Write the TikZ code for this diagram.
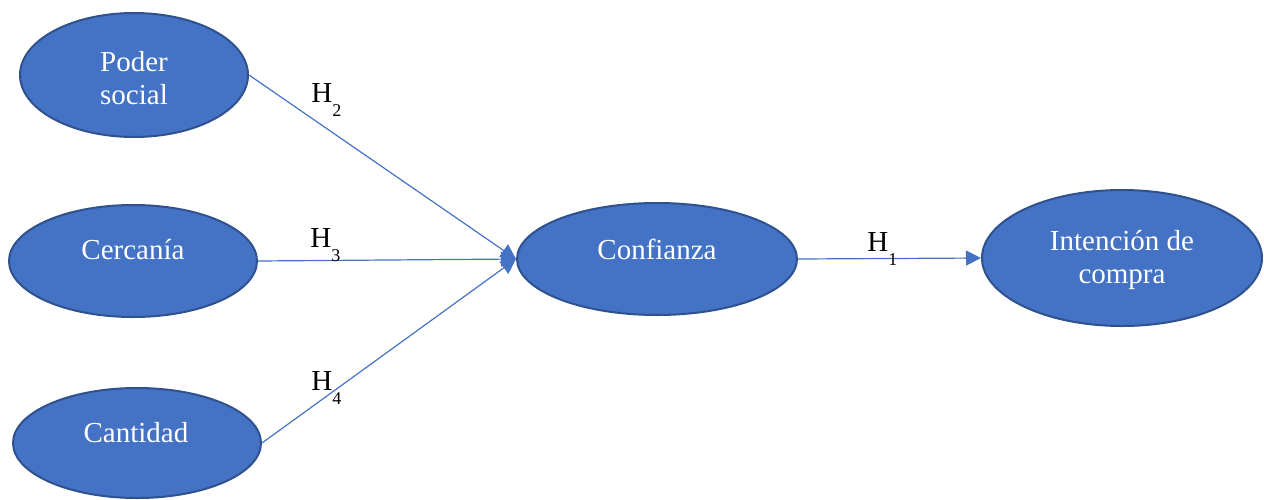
\documentclass[tikz,border=0pt]{standalone}
\usepackage{fontspec}
\setmainfont{Liberation Serif}
\usetikzlibrary{shapes.geometric,arrows.meta}
\definecolor{fillblue}{HTML}{4472C4}
\definecolor{edgeblue}{HTML}{2F528F}
\newcommand\hyptext[1]{H\raisebox{-7pt}{\fontsize{9}{9}\selectfont #1}}
\begin{document}
\begin{tikzpicture}[x=0.5pt,y=-0.5pt,
  oval/.style={ellipse,fill=fillblue,draw=edgeblue,line width=1pt,inner sep=0pt},
  lbl/.style={text=white,font=\fontsize{14.5}{16.5}\selectfont,align=center,inner sep=0pt},
  hyp/.style={font=\fontsize{14.5}{16.5}\selectfont,inner sep=0pt,anchor=base west},
  link/.style={draw=fillblue,line width=0.6pt,-{Triangle[length=7.5pt,width=7.5pt]}}]
\useasboundingbox (0,0) rectangle (1264,499);
% ellipses
\node[oval,minimum width=114pt,minimum height=62pt] (ps) at (134,75) {};
\node[oval,minimum width=124pt,minimum height=56pt] (cer) at (133,261) {};
\node[oval,minimum width=124pt,minimum height=55pt] (can) at (137,443) {};
\node[oval,minimum width=140pt,minimum height=56pt] (conf) at (657,259) {};
\node[oval,minimum width=140pt,minimum height=68pt] (int) at (1122,258) {};
% texts
\node[lbl] (tps) at (134,78) {Poder\\social};
\node[lbl,anchor=base] (tcer) at (133,259) {Cercanía};
\node[lbl,anchor=base] (tcan) at (136,442) {Cantidad};
\node[lbl,anchor=base] (tconf) at (657,259) {Confianza};
\node[lbl] (tint) at (1122,260) {Intención de\\compra};
% connectors
\draw[link] (ps.east) -- (conf.west);
\draw[link] (cer.east) -- (conf.west);
\draw[link] (can.east) -- (conf.west);
\draw[link] (conf.east) -- (int.west);
% hypothesis labels
\node[hyp] (h2) at (311,102) {\hyptext{2}};
\node[hyp] (h3) at (310,247) {\hyptext{3}};
\node[hyp] (h4) at (311,390) {\hyptext{4}};
\node[hyp] (h1) at (867,251) {\hyptext{1}};
\end{tikzpicture}
\end{document}
